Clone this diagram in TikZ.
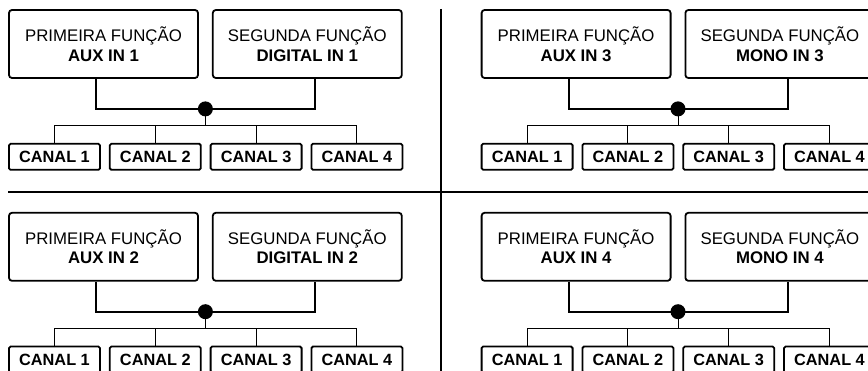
\documentclass[tikz,border=0pt]{standalone}
\usepackage{fontspec}
\setmainfont{Liberation Sans}
\usetikzlibrary{positioning, calc}

\begin{document}
\begin{tikzpicture}[x=1pt, y=1pt,
    funcao/.style={draw, line width=1.8pt, rounded corners=3pt, minimum width=189pt, minimum height=68pt, inner sep=0pt, align=center, font=\fontsize{16.8}{19.5}\selectfont},
    canal/.style={draw, line width=1.8pt, rounded corners=1.5pt, minimum width=91pt, minimum height=26pt, inner sep=0pt, font=\fontsize{16.3}{19}\selectfont\bfseries},
    grosso/.style={line width=2pt},
    fino/.style={line width=1pt},
    ponto/.style={circle, fill=black, inner sep=0pt, minimum size=15pt}]
    \useasboundingbox (0,0) rectangle (868,-371);

    \node[funcao] (Prim1) at (103.5,-44) {PRIMEIRA FUNÇÃO\\\textbf{AUX IN 1}};
    \node[funcao, right=13pt of Prim1] (Seg1) {SEGUNDA FUNÇÃO\\\textbf{DIGITAL IN 1}};
    \node[ponto] (No1) at ($(Prim1.south east)!0.5!(Seg1.south west)+(0,-30)$) {};
    \node[canal, below right=64pt and 0pt of Prim1.south west] (C11) {CANAL 1};
    \node[canal, right=8pt of C11] (C12) {CANAL 2};
    \node[canal, right=8pt of C12] (C13) {CANAL 3};
    \node[canal, right=8pt of C13] (C14) {CANAL 4};
    \coordinate[below=17pt of No1.center] (Bar1);
    \draw[grosso] ([xshift=-7.5pt]Prim1.south) |- (No1.center) -| ([xshift=8pt]Seg1.south);
    \draw[fino] (No1.center) -- (Bar1);
    \draw[fino] (C11.north) |- (Bar1) -| (C14.north);
    \draw[fino] (C12.north) -- (C12.north |- Bar1);
    \draw[fino] (C13.north) -- (C13.north |- Bar1);

    \node[funcao, below=133pt of Prim1] (Prim2) {PRIMEIRA FUNÇÃO\\\textbf{AUX IN 2}};
    \node[funcao, right=13pt of Prim2] (Seg2) {SEGUNDA FUNÇÃO\\\textbf{DIGITAL IN 2}};
    \node[ponto] (No2) at ($(Prim2.south east)!0.5!(Seg2.south west)+(0,-30)$) {};
    \node[canal, below right=64pt and 0pt of Prim2.south west] (C21) {CANAL 1};
    \node[canal, right=8pt of C21] (C22) {CANAL 2};
    \node[canal, right=8pt of C22] (C23) {CANAL 3};
    \node[canal, right=8pt of C23] (C24) {CANAL 4};
    \coordinate[below=17pt of No2.center] (Bar2);
    \draw[grosso] ([xshift=-7.5pt]Prim2.south) |- (No2.center) -| ([xshift=8pt]Seg2.south);
    \draw[fino] (No2.center) -- (Bar2);
    \draw[fino] (C21.north) |- (Bar2) -| (C24.north);
    \draw[fino] (C22.north) -- (C22.north |- Bar2);
    \draw[fino] (C23.north) -- (C23.north |- Bar2);

    \node[funcao, right=78pt of Seg1] (Prim3) {PRIMEIRA FUNÇÃO\\\textbf{AUX IN 3}};
    \node[funcao, right=13pt of Prim3] (Seg3) {SEGUNDA FUNÇÃO\\\textbf{MONO IN 3}};
    \node[ponto] (No3) at ($(Prim3.south east)!0.5!(Seg3.south west)+(0,-30)$) {};
    \node[canal, below right=64pt and 0pt of Prim3.south west] (C31) {CANAL 1};
    \node[canal, right=8pt of C31] (C32) {CANAL 2};
    \node[canal, right=8pt of C32] (C33) {CANAL 3};
    \node[canal, right=8pt of C33] (C34) {CANAL 4};
    \coordinate[below=17pt of No3.center] (Bar3);
    \draw[grosso] ([xshift=-7.5pt]Prim3.south) |- (No3.center) -| ([xshift=8pt]Seg3.south);
    \draw[fino] (No3.center) -- (Bar3);
    \draw[fino] (C31.north) |- (Bar3) -| (C34.north);
    \draw[fino] (C32.north) -- (C32.north |- Bar3);
    \draw[fino] (C33.north) -- (C33.north |- Bar3);

    \node[funcao, below=133pt of Prim3] (Prim4) {PRIMEIRA FUNÇÃO\\\textbf{AUX IN 4}};
    \node[funcao, right=13pt of Prim4] (Seg4) {SEGUNDA FUNÇÃO\\\textbf{MONO IN 4}};
    \node[ponto] (No4) at ($(Prim4.south east)!0.5!(Seg4.south west)+(0,-30)$) {};
    \node[canal, below right=64pt and 0pt of Prim4.south west] (C41) {CANAL 1};
    \node[canal, right=8pt of C41] (C42) {CANAL 2};
    \node[canal, right=8pt of C42] (C43) {CANAL 3};
    \node[canal, right=8pt of C43] (C44) {CANAL 4};
    \coordinate[below=17pt of No4.center] (Bar4);
    \draw[grosso] ([xshift=-7.5pt]Prim4.south) |- (No4.center) -| ([xshift=8pt]Seg4.south);
    \draw[fino] (No4.center) -- (Bar4);
    \draw[fino] (C41.north) |- (Bar4) -| (C44.north);
    \draw[fino] (C42.north) -- (C42.north |- Bar4);
    \draw[fino] (C43.north) -- (C43.north |- Bar4);

    % divisorias
    \coordinate (Vtopo) at (441,-9);
    \coordinate (Vbase) at (441,-371);
    \coordinate (Hesq) at (8,-192);
    \coordinate (Hdir) at (868,-192);
    \draw[grosso] (Vtopo) -- (Vbase);
    \draw[grosso] (Hesq) -- (Hdir);
\end{tikzpicture}
\end{document}
